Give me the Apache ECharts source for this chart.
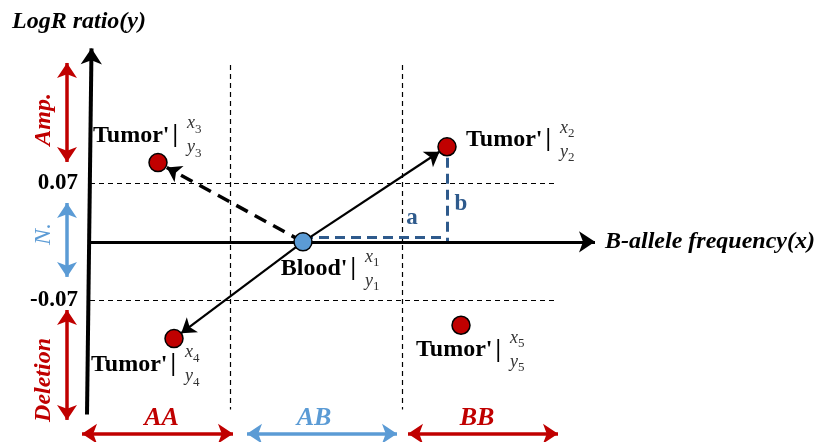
<!DOCTYPE html>
<html><head><meta charset="utf-8">
<script src="https://cdn.jsdelivr.net/npm/echarts@6/dist/echarts.min.js"></script>
<style>html,body{margin:0;padding:0;background:#fff}#c{width:815px;height:442px}</style>
</head><body><div id="c"></div>
<script>
// ---------- data ----------
const bloodPoint = [0.426, 0.0];
const bloodId = '1';
const tumorPoints = [[0.714, 0.114], [0.136, 0.095], [0.168, -0.116], [0.742, -0.100]];
const tumorIds = ['2', '3', '4', '5'];
const thresholds = [0.07, -0.07];
const thresholdLabels = ['0.07', '-0.07'];
const genotypeBounds = [0.28, 0.624];
const genotypeLabels = ['AA', 'AB', 'BB'];
const genotypeRanges = [[-0.016, 0.286], [0.314, 0.614], [0.636, 0.936]];
const stateLabels = ['Amp.', 'N.', 'Deletion'];
const stateRanges = [[0.2145, 0.0958], [0.0466, -0.042], [-0.0817, -0.2135]];
const yAxisTitle = 'LogR ratio(y)';
const xAxisTitle = 'B-allele frequency(x)';
const xAxisEnd = 1.01;
const yAxisEnds = [-0.207, 0.232];
const refLineEnd = 0.93;
const boundEnds = [0.212, -0.201];

// ---------- layout ----------
const xMin = -0.18, xMax = 1.45, yMin = -0.24, yMax = 0.29;
const W = 815, H = 442;
const sx = W / (xMax - xMin), sy = H / (yMax - yMin);
const FONT = "'Liberation Serif','Times New Roman',serif";
const RED = '#c00000', LBLUE = '#5b9bd5', DBLUE = '#2e5a8c';

function shorten(from, to, px) {
  const dx = (to[0] - from[0]) * sx, dy = (to[1] - from[1]) * sy;
  const k = px / Math.hypot(dx, dy);
  return [to[0] - (to[0] - from[0]) * k, to[1] - (to[1] - from[1]) * k];
}
function ls(color, width, type) { return {color: color, width: width, type: type || 'solid', opacity: 1}; }

// plain lines (no arrows)
const plainLines = [];
thresholds.forEach(t => plainLines.push({coords: [[0, t], [refLineEnd, t]], lineStyle: ls('#000', 1.2, [5, 4])}));
genotypeBounds.forEach(b => plainLines.push({coords: [[b, boundEnds[0]], [b, boundEnds[1]]], lineStyle: ls('#000', 1.2, [5, 4])}));
const t2 = tumorPoints[0];
plainLines.push({coords: [[bloodPoint[0], bloodPoint[1] + 5 / sy], [t2[0], bloodPoint[1] + 5 / sy]], lineStyle: ls(DBLUE, 3, [10, 6])});
plainLines.push({coords: [[t2[0], t2[1] - 11 / sy], [t2[0], bloodPoint[1]]], lineStyle: ls(DBLUE, 3, [10, 6])});

// axes arrows (y axis drawn with the slight lean of the original)
const axisLines = [
  {coords: [[-3 / sx, yAxisEnds[0]], [1.5 / sx, yAxisEnds[1]]], lineStyle: ls('#000', 4)},
  {coords: [[0, 0], [xAxisEnd, 0]], lineStyle: ls('#000', 3)}
];

// blood -> tumor arrows
const moveLines = [
  {coords: [bloodPoint, shorten(bloodPoint, tumorPoints[0], 9)], lineStyle: ls('#000', 2.2)},
  {coords: [bloodPoint, shorten(bloodPoint, tumorPoints[2], 9)], lineStyle: ls('#000', 2.2)},
  {coords: [bloodPoint, shorten(bloodPoint, tumorPoints[1], 10)], lineStyle: ls('#000', 3.5, [13, 8])}
];

// double arrows
const genoColors = [RED, LBLUE, RED];
const stateColors = [RED, LBLUE, RED];
const doubleLines = [];
genotypeRanges.forEach((r, i) => doubleLines.push({coords: [[r[0], -0.23], [r[1], -0.23]], lineStyle: ls(genoColors[i], 3.5)}));
stateRanges.forEach((r, i) => doubleLines.push({coords: [[-0.046, r[0]], [-0.046, r[1]]], lineStyle: ls(stateColors[i], 3.5)}));

// text labels
const texts = [];
function addText(pos, label) {
  texts.push({value: pos, label: Object.assign({show: true, position: 'inside', fontFamily: FONT}, label)});
}
addText([-0.156, 0.2637], {formatter: yAxisTitle, align: 'left', verticalAlign: 'middle', fontSize: 24, fontWeight: 'bold', fontStyle: 'italic', color: '#000'});
addText([xAxisEnd, 0], {formatter: xAxisTitle, align: 'left', verticalAlign: 'middle', offset: [10, 0], fontSize: 24, fontWeight: 'bold', fontStyle: 'italic', color: '#000'});
thresholds.forEach((t, i) => addText([0, t], {formatter: thresholdLabels[i], align: 'right', verticalAlign: 'middle', offset: [-12, 0], fontSize: 23, fontWeight: 'bold', color: '#000'}));
const genoDx = [4, -8, -6];
genotypeRanges.forEach((r, i) => addText([(r[0] + r[1]) / 2, -0.23], {formatter: genotypeLabels[i], align: 'center', verticalAlign: 'middle', offset: [genoDx[i], -15], fontSize: 26, fontWeight: 'bold', fontStyle: 'italic', color: genoColors[i]}));
const stateDy = [7, -6, 15];
stateRanges.forEach((r, i) => addText([-0.046, (r[0] + r[1]) / 2], {formatter: stateLabels[i], align: 'center', verticalAlign: 'middle', rotate: 90, offset: [-stateDy[i], -23], fontSize: 24, fontWeight: i === 1 ? 'normal' : 'bold', fontStyle: 'italic', color: stateColors[i]}));
addText([0.644, 0.029], {formatter: 'a', align: 'center', verticalAlign: 'middle', fontSize: 23, fontWeight: 'bold', color: DBLUE});
addText([0.742, 0.045], {formatter: 'b', align: 'center', verticalAlign: 'middle', fontSize: 23, fontWeight: 'bold', color: DBLUE});

const rich = {
  nm: {fontFamily: FONT, fontSize: 24, fontWeight: 'bold', color: '#000', verticalAlign: 'middle'},
  bar: {fontFamily: FONT, fontSize: 25, fontWeight: 'bold', color: '#000', verticalAlign: 'middle'},
  vv: {fontFamily: FONT, fontSize: 18, fontStyle: 'italic', color: '#333', lineHeight: 24, verticalAlign: 'middle'},
  ss: {fontFamily: FONT, fontSize: 13, color: '#333', lineHeight: 14, verticalAlign: 'bottom'}
};
function addPointLabel(pt, name, id, barDx, dy) {
  addText(pt, {formatter: '{nm|' + name + '} {bar||}', align: 'right', verticalAlign: 'middle', offset: [barDx + 3, dy], rich: rich});
  addText(pt, {formatter: '{vv|x}{ss|' + id + '}\n{vv|y}{ss|' + id + '}', align: 'left', verticalAlign: 'middle', offset: [barDx + 12, dy], rich: rich});
}
const labelOffsets = [[101, -7], [17, -27], [-1, 26], [37, 25]];
tumorPoints.forEach((p, i) => addPointLabel(p, "Tumor'", tumorIds[i], labelOffsets[i][0], labelOffsets[i][1]));
addPointLabel(bloodPoint, "Blood'", bloodId, 50, 27);

const chart = echarts.init(document.getElementById('c'), null, {renderer: 'canvas'});
chart.setOption({
  animation: false,
  backgroundColor: '#fff',
  grid: {left: 0, right: 0, top: 0, bottom: 0},
  xAxis: {type: 'value', min: xMin, max: xMax, show: false},
  yAxis: {type: 'value', min: yMin, max: yMax, show: false},
  series: [
    {type: 'lines', coordinateSystem: 'cartesian2d', symbol: ['none', 'none'], data: plainLines, z: 2},
    {type: 'lines', coordinateSystem: 'cartesian2d', symbol: ['none', 'arrow'], symbolSize: 16, data: axisLines, z: 3},
    {type: 'lines', coordinateSystem: 'cartesian2d', symbol: ['none', 'arrow'], symbolSize: 14, data: moveLines, z: 4},
    {type: 'lines', coordinateSystem: 'cartesian2d', symbol: ['arrow', 'arrow'], symbolSize: 15, data: doubleLines, z: 3},
    {type: 'scatter', data: tumorPoints, symbolSize: 18, itemStyle: {color: RED, borderColor: '#000', borderWidth: 1.5, opacity: 1}, z: 6},
    {type: 'scatter', data: [bloodPoint], symbolSize: 18, itemStyle: {color: LBLUE, borderColor: '#000', borderWidth: 1.5, opacity: 1}, z: 6},
    {type: 'scatter', data: texts, symbolSize: 1, itemStyle: {color: 'rgba(0,0,0,0)', opacity: 1}, silent: true, z: 7}
  ]
});
</script></body></html>
